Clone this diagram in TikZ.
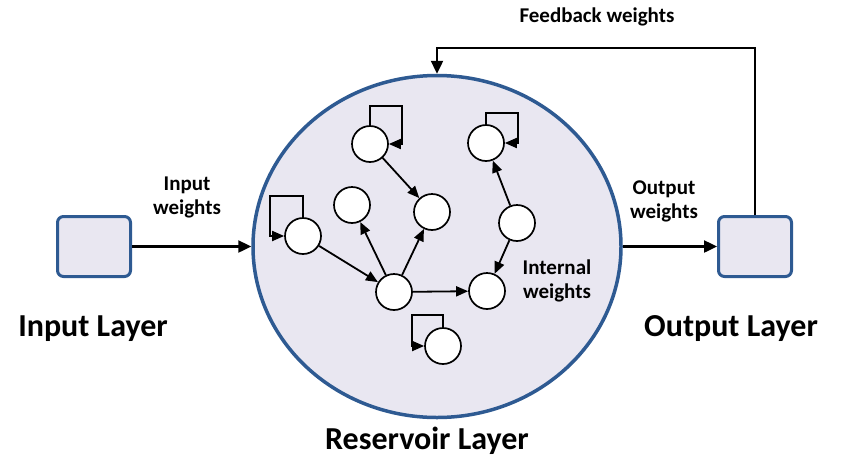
\documentclass[tikz,border=0pt]{standalone}
\usepackage{fontspec}
\setmainfont{Carlito}
\usetikzlibrary{arrows.meta,shapes.geometric}

\definecolor{layerblue}{HTML}{2E5A92}
\definecolor{layerfill}{HTML}{E9E7F1}

\begin{document}
\begin{tikzpicture}[x=1pt,y=-1pt,
        neuron/.style={draw=black,fill=white,circle,line width=1.7pt,minimum size=36pt,inner sep=0pt},
        layerbox/.style={draw=layerblue,fill=layerfill,line width=3pt,rounded corners=6pt,minimum width=73pt,minimum height=60pt,inner sep=0pt},
        wire/.style={line width=2.4pt,-{Triangle[length=13pt,width=12pt]}},
        inwire/.style={line width=1.8pt,-{Triangle[length=12pt,width=10pt]}},
        bigtext/.style={font=\fontsize{32}{36}\selectfont\bfseries},
        smalltext/.style={font=\fontsize{21}{24}\selectfont\bfseries,align=center}]
                \useasboundingbox (0,0) rectangle (850,461);
                % layers
                \node [draw=layerblue,fill=layerfill,line width=3.5pt,ellipse,minimum width=368pt,minimum height=342pt,inner sep=0pt] (res) at (437,246.5) {};
                \node [layerbox] (in) at (94,246.5) {};
                \node [layerbox] (out) at (755,246.5) {};
                % neurons
                \node [neuron] (n1) at (370,144) {};
                \node [neuron] (n2) at (432,212) {};
                \node [neuron] (n3) at (352,205) {};
                \node [neuron] (n4) at (303,236) {};
                \node [neuron] (n5) at (394,292) {};
                \node [neuron] (n6) at (487,291) {};
                \node [neuron] (n7) at (517,223) {};
                \node [neuron] (n8) at (486,143) {};
                \node [neuron] (n9) at (443,346) {};
                % internal weights
                \draw [inwire] (n1) -- (n2);
                \draw [inwire] (n4) -- (n5);
                \draw [inwire] (n5) -- (n3);
                \draw [inwire] (n5) -- (n2);
                \draw [inwire] (n5) -- (n6);
                \draw [inwire] (n7) -- (n8);
                \draw [inwire] (n7) -- (n6);
                % self loops
                \draw [inwire] (n1.north) -- ++(0,-19) -| ([xshift=13pt]n1.east) -- (n1.east);
                \draw [inwire] (n8.north) -- ++(0,-11) -| ([xshift=13pt]n8.east) -- (n8.east);
                \draw [inwire] (n4.north) -- ++(0,-21) -| ([xshift=-14pt]n4.west) -- (n4.west);
                \draw [inwire] (n9.north) -- ++(0,-12) -| ([xshift=-12pt]n9.west) -- (n9.west);
                % layer connections
                \draw [wire] (in.east) -- (res.west);
                \draw [wire] (res.east) -- (out.west);
                \draw [wire] (out.north) -- ++(0,-167) -| (res.north);
                % labels
                \node [smalltext] (fbl) at (597,17) {Feedback weights};
                \node [smalltext] (inl) at (187,197) {Input\\weights};
                \node [smalltext] (outl) at (664,201) {Output\\weights};
                \node [smalltext] (intl) at (557,281) {Internal\\weights};
                \node [bigtext] (inname) at (93,329) {Input Layer};
                \node [bigtext] (outname) at (731,329) {Output Layer};
                \node [bigtext] (resname) at (427,441) {Reservoir Layer};
\end{tikzpicture}
\end{document}
